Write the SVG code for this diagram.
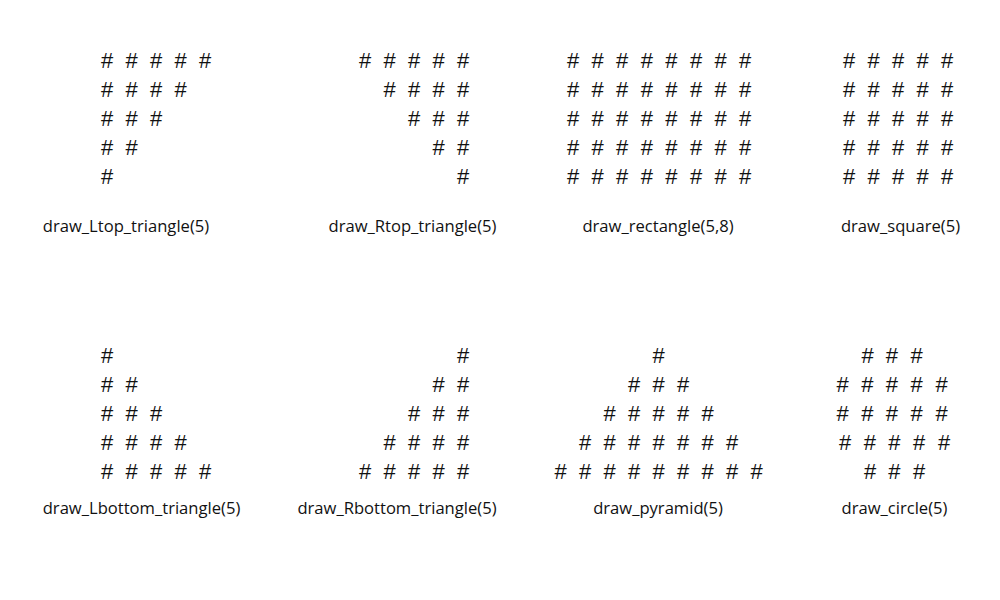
<svg xmlns="http://www.w3.org/2000/svg" width="1000" height="600" viewBox="0 0 1000 600">
<style>
.h{font-family:"Liberation Sans",Arial,sans-serif;font-size:22px;fill:#111;text-anchor:middle}
.l{font-family:"Open Sans","Liberation Sans",sans-serif;font-size:16.6px;fill:#111;text-anchor:middle}
</style>
<rect width="1000" height="600" fill="#fff"/>
<g id="ltop">
<text class="h" x="107 131.5 156 180.5 205" y="68">#####</text>
<text class="h" x="107 131.5 156 180.5" y="97">####</text>
<text class="h" x="107 131.5 156" y="126">###</text>
<text class="h" x="107 131.5" y="155">##</text>
<text class="h" x="107" y="184">#</text>
<text class="l" x="126" y="232">draw_Ltop_triangle(5)</text>
</g>
<g id="rtop">
<text class="h" x="365 389.5 414 438.5 463" y="68">#####</text>
<text class="h" x="389.5 414 438.5 463" y="97">####</text>
<text class="h" x="414 438.5 463" y="126">###</text>
<text class="h" x="438.5 463" y="155">##</text>
<text class="h" x="463" y="184">#</text>
<text class="l" x="412.5" y="232">draw_Rtop_triangle(5)</text>
</g>
<g id="rectangle">
<text class="h" x="573 597.6 622.2 646.8 671.4 696 720.6 745.2" y="68">########</text>
<text class="h" x="573 597.6 622.2 646.8 671.4 696 720.6 745.2" y="97">########</text>
<text class="h" x="573 597.6 622.2 646.8 671.4 696 720.6 745.2" y="126">########</text>
<text class="h" x="573 597.6 622.2 646.8 671.4 696 720.6 745.2" y="155">########</text>
<text class="h" x="573 597.6 622.2 646.8 671.4 696 720.6 745.2" y="184">########</text>
<text class="l" x="658" y="232">draw_rectangle(5,8)</text>
</g>
<g id="square">
<text class="h" x="849 873.5 898 922.5 947" y="68">#####</text>
<text class="h" x="849 873.5 898 922.5 947" y="97">#####</text>
<text class="h" x="849 873.5 898 922.5 947" y="126">#####</text>
<text class="h" x="849 873.5 898 922.5 947" y="155">#####</text>
<text class="h" x="849 873.5 898 922.5 947" y="184">#####</text>
<text class="l" x="900.5" y="232">draw_square(5)</text>
</g>
<g id="lbottom">
<text class="h" x="107" y="363">#</text>
<text class="h" x="107 131.5" y="392">##</text>
<text class="h" x="107 131.5 156" y="421">###</text>
<text class="h" x="107 131.5 156 180.5" y="450">####</text>
<text class="h" x="107 131.5 156 180.5 205" y="479">#####</text>
<text class="l" x="141.5" y="514">draw_Lbottom_triangle(5)</text>
</g>
<g id="rbottom">
<text class="h" x="463" y="363">#</text>
<text class="h" x="438.5 463" y="392">##</text>
<text class="h" x="414 438.5 463" y="421">###</text>
<text class="h" x="389.5 414 438.5 463" y="450">####</text>
<text class="h" x="365 389.5 414 438.5 463" y="479">#####</text>
<text class="l" x="397" y="514">draw_Rbottom_triangle(5)</text>
</g>
<g id="pyramid">
<text class="h" x="658.7" y="363">#</text>
<text class="h" x="634.2 658.7 683.2" y="392">###</text>
<text class="h" x="609.7 634.2 658.7 683.2 707.7" y="421">#####</text>
<text class="h" x="585.2 609.7 634.2 658.7 683.2 707.7 732.2" y="450">#######</text>
<text class="h" x="560.7 585.2 609.7 634.2 658.7 683.2 707.7 732.2 756.7" y="479">#########</text>
<text class="l" x="658" y="514">draw_pyramid(5)</text>
</g>
<g id="circle">
<text class="h" x="867.7 891.9 916.7" y="363">###</text>
<text class="h" x="842.7 867.4 891.9 916.6 941.7" y="392">#####</text>
<text class="h" x="842.7 867.4 891.9 916.6 941.7" y="421">#####</text>
<text class="h" x="845 869.9 894.3 919 944" y="450">#####</text>
<text class="h" x="870 894.3 919" y="479">###</text>
<text class="l" x="894.5" y="514">draw_circle(5)</text>
</g>
</svg>
